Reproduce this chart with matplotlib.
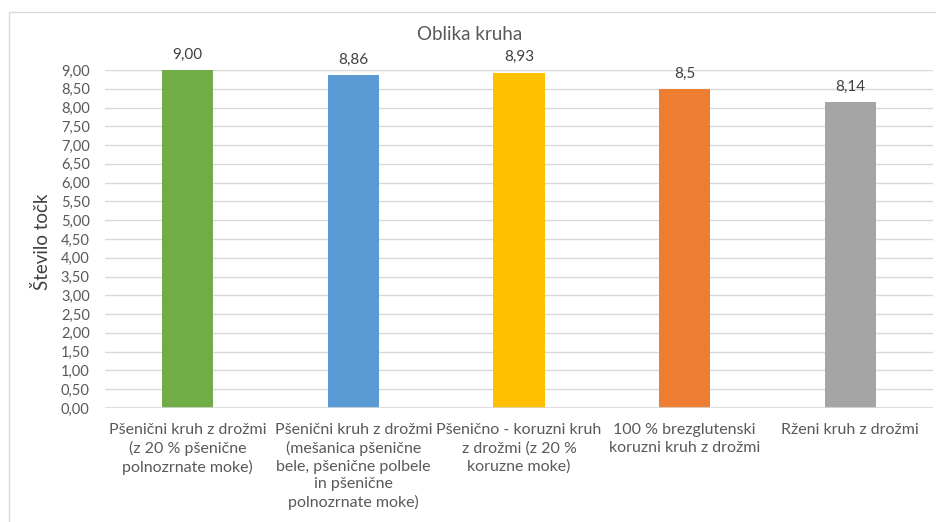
import numpy as np
import matplotlib.pyplot as plt
from matplotlib.patches import Rectangle

plt.rcParams['font.family'] = ['Lato', 'DejaVu Sans']

############## data ##############
categories = ["Pšenični kruh z drožmi\n(z 20 % pšenične\npolnozrnate moke)",
              "Pšenični kruh z drožmi\n(mešanica pšenične\nbele, pšenične polbele\nin pšenične\npolnozrnate moke)",
              "Pšenično - koruzni kruh\nz drožmi (z 20 %\nkoruzne moke)",
              "100 % brezglutenski\nkoruzni kruh z drožmi",
              "Rženi kruh z drožmi"]
values = [9.00, 8.86, 8.93, 8.5, 8.14]
value_labels = ["9,00", "8,86", "8,93", "8,5", "8,14"]
yticks = np.arange(0, 9.01, 0.5)
colors = ['#70AD47', '#5B9BD5', '#FFC000', '#ED7D31', '#A5A5A5']

W, H = 936, 522
fig = plt.figure(figsize=(W / 100, H / 100), dpi=100)

# chart frame (light gray, excel style)
fig.patches.append(Rectangle((9 / W, -0.1), 1.2, 1 - 12 / H + 0.1, transform=fig.transFigure,
                             fill=False, edgecolor='#D9D9D9', linewidth=1))

ax = fig.add_axes([105 / W, 1 - 408 / H, (933 - 105) / W, (408 - 70) / H])

x = np.arange(len(values))
ax.bar(x, values, width=0.31, color=colors, zorder=2)
for xi, v, lab in zip(x, values, value_labels):
    ax.annotate(lab, (xi, v), xytext=(0, 6), textcoords='offset points',
                ha='center', va='bottom', fontsize=11, color='#404040')

ax.set_xlim(-0.5, len(values) - 0.5)
ax.set_ylim(0, 9)
ax.set_yticks(yticks)
ax.set_yticklabels([f"{t:.2f}".replace('.', ',') for t in yticks], fontsize=10.5, color='#595959')
ax.set_xticks(x)
ax.set_xticklabels(categories, fontsize=11.5, color='#595959', linespacing=1.32, va='top')
ax.tick_params(axis='both', length=0)
ax.tick_params(axis='y', pad=11)
ax.tick_params(axis='x', pad=11)
ax.grid(axis='y', color='#D9D9D9', linewidth=1, zorder=0)
for s in ax.spines.values():
    s.set_visible(False)
ax.axhline(0, color='#D9D9D9', linewidth=1.5, alpha=0.8, zorder=3)

fig.text(470 / W, 1 - 35 / H, "Oblika kruha", ha='center', va='center', fontsize=13.5, color='#595959')
fig.text(42 / W, 1 - 242 / H, "Število točk", ha='center', va='center', rotation=90,
         fontsize=13.5, color='#404040')

fig.savefig('out.png', dpi=100)
